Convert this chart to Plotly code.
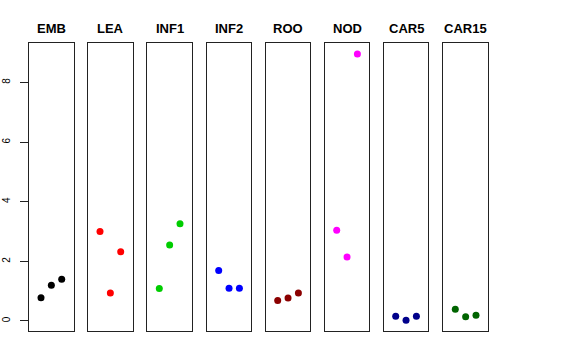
import plotly.graph_objects as go

tissues = ["EMB", "LEA", "INF1", "INF2", "ROO", "NOD", "CAR5", "CAR15"]
colors = ["#000000", "#FF0000", "#00CD00", "#0000FF", "#8B0000", "#FF00FF", "#00008B", "#006400"]
x_index = [1, 2, 3]
emb = [0.78, 1.20, 1.40]
lea = [3.00, 0.94, 2.32]
inf1 = [1.09, 2.55, 3.26]
inf2 = [1.69, 1.10, 1.10]
roo = [0.69, 0.77, 0.94]
nod = [3.04, 2.15, 8.96]
car5 = [0.16, 0.02, 0.16]
car15 = [0.39, 0.14, 0.19]
values = [emb, lea, inf1, inf2, roo, nod, car5, car15]
y_ticks = [0, 2, 4, 6, 8]

W, H = 576, 360
panel_left = [29, 88, 147.3, 206.7, 265.7, 324.7, 383.7, 443.3]
panel_w = 44.7
y_bot, y_top = 331, 43.3

fig = go.Figure()
layout = dict(
    width=W, height=H, margin=dict(l=0, r=0, t=0, b=0),
    paper_bgcolor="white", plot_bgcolor="white", showlegend=False,
    font=dict(family="Liberation Sans, Arial, sans-serif", color="black"),
)
ymin = min(min(v) for v in values)
ymax = max(max(v) for v in values)
pad = 0.04 * (ymax - ymin)
annotations = []
for i, (name, col, vals) in enumerate(zip(tissues, colors, values)):
    xa = "x" if i == 0 else f"x{i+1}"
    ya = "y" if i == 0 else f"y{i+1}"
    fig.add_trace(go.Scatter(x=x_index, y=vals, mode="markers",
                             marker=dict(color=col, size=7),
                             xaxis=xa, yaxis=ya, hoverinfo="skip"))
    xkey = "xaxis" if i == 0 else f"xaxis{i+1}"
    ykey = "yaxis" if i == 0 else f"yaxis{i+1}"
    d0 = panel_left[i] / W
    d1 = (panel_left[i] + panel_w) / W
    layout[xkey] = dict(domain=[d0, d1], range=[-0.16, 4.16], showgrid=False,
                        zeroline=False, showticklabels=False, ticks="",
                        showline=True, mirror=True, linecolor="#222", linewidth=1,
                        anchor=ya, fixedrange=True)
    ydict = dict(domain=[1 - y_bot / H, 1 - y_top / H], range=[ymin - pad, ymax + pad],
                 showgrid=False, zeroline=False, showline=True, mirror=True,
                 linecolor="#222", linewidth=1, anchor=xa, fixedrange=True)
    if i == 0:
        ydict.update(tickvals=y_ticks, ticktext=[str(t) for t in y_ticks],
                     ticks="outside", ticklen=8, tickcolor="#222", tickangle=-90,
                     tickfont=dict(size=10, color="black"), ticklabelstandoff=6)
    else:
        ydict.update(showticklabels=False, ticks="")
    layout[ykey] = ydict
    annotations.append(dict(text=f"<b>{name}</b>", x=(panel_left[i] + panel_w / 2) / W,
                            y=1 - 28.5 / H, xref="paper", yref="paper",
                            showarrow=False, font=dict(size=13, color="black"),
                            xanchor="center", yanchor="middle"))
layout["annotations"] = annotations
fig.update_layout(**layout)
fig.write_html("out.html", config={"displayModeBar": False},
               post_script="document.body.style.margin='0px';")
